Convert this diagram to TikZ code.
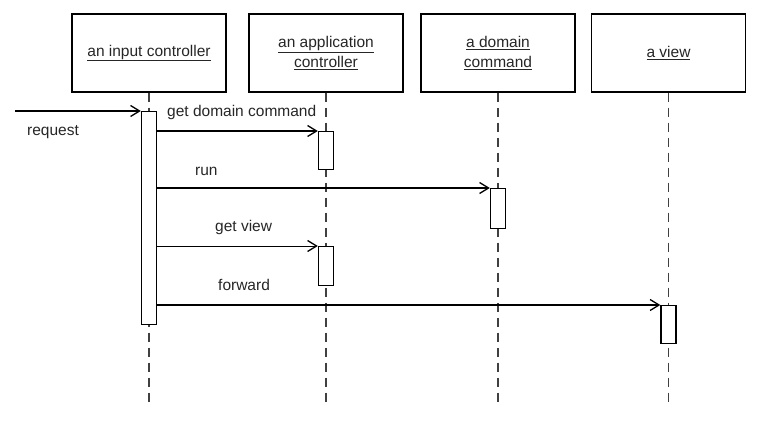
\documentclass[tikz,border=0pt]{standalone}
\usepackage{fontspec}
\setmainfont{Liberation Sans}
\usetikzlibrary{arrows.meta}

\tikzset{
  object/.style={draw, line width=1.4pt, minimum width=154pt, minimum height=78pt, align=center, inner sep=0pt, text=black!85, font=\fontsize{15.5}{20}\selectfont},
  lifeline/.style={draw=black!75, line width=1.3pt, dash pattern=on 9pt off 6pt},
  activation/.style={draw, fill=white, line width=1.4pt, minimum width=15pt, inner sep=0pt, anchor=north},
  message/.style={line width=1.3pt, -{Straight Barb[length=9pt,width=11pt,line width=1.3pt]}},
  msglabel/.style={anchor=west, inner sep=0pt, text=black!85, font=\fontsize{15.5}{19}\selectfont},
}

\begin{document}
\begin{tikzpicture}[x=1pt,y=1pt,yscale=-1,xscale=1]
		\useasboundingbox (0,0) rectangle (765,422);

		% The four objects at the top
		\node[object] (inputctl) at (149,53) {\underline{an input controller}};
		\node[object] (appctl) at (326,53) {\underline{an application}\\\underline{controller}};
		\node[object] (domcmd) at (498,53) {\underline{a domain}\\\underline{command}};
		\node[object] (view) at (668.5,53) {\underline{a view}};

		% Ends of the lifelines
		\coordinate (inputctl-end) at (149,402);
		\coordinate (appctl-end) at (326,402);
		\coordinate (domcmd-end) at (498,402);
		\coordinate (view-end) at (668.5,402);

		% The dashed lifelines
		\draw[lifeline] (inputctl.south) -- (inputctl-end);
		\draw[lifeline] (appctl.south) -- (appctl-end);
		\draw[lifeline] (domcmd.south) -- (domcmd-end);
		\draw[lifeline] (view.south) -- (view-end);

		% Activation bars
		\node[activation, minimum height=213pt] (act-input) at (149,111) {};
		\node[activation, minimum height=38pt] (act-getcmd) at (326,131) {};
		\node[activation, minimum height=40pt] (act-run) at (498,188) {};
		\node[activation, minimum height=39pt] (act-getview) at (326,246) {};
		\node[activation, minimum height=38pt] (act-forward) at (668.5,305) {};

		% The incoming request
		\coordinate (request-start) at (15,111);
		\draw[message] (request-start) -- (act-input.north west);
		\node[msglabel] (request) at (27,132) {request};

		% The messages
		\draw[message] (act-input.east |- act-getcmd.north) -- (act-getcmd.north west);
		\node[msglabel] (getcmd) at (167,112) {get domain command};

		\draw[message] (act-input.east |- act-run.north) -- (act-run.north west);
		\node[msglabel] (run) at (195,171) {run};

		\draw[message, line width=0.8pt] (act-input.east |- act-getview.north) -- (act-getview.north west);
		\node[msglabel] (getview) at (215,227) {get view};

		\draw[message] (act-input.east |- act-forward.north) -- (act-forward.north west);
		\node[msglabel] (forward) at (218,285) {forward};
	\end{tikzpicture}
\end{document}
